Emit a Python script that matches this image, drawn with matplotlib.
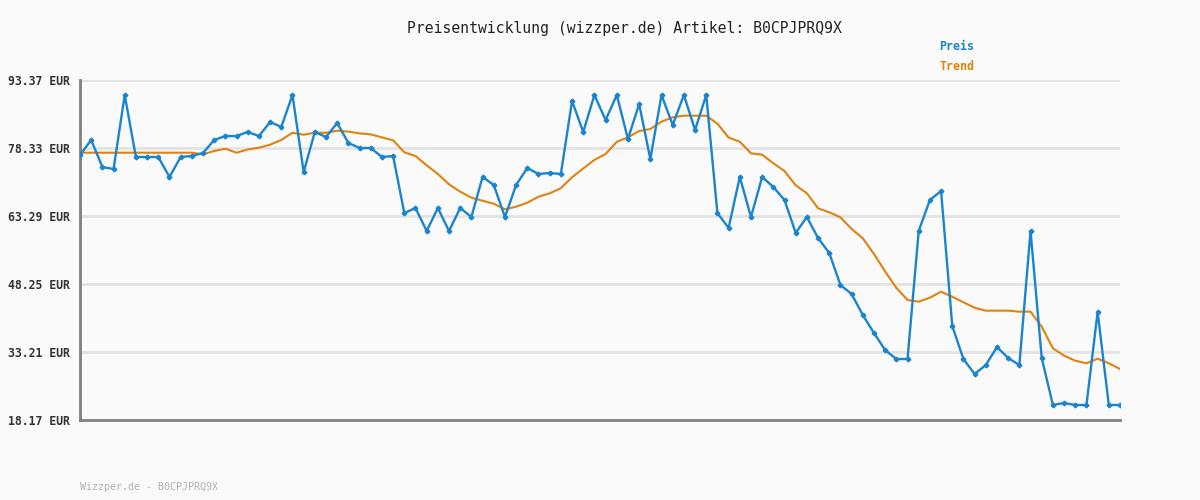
import matplotlib
matplotlib.use("Agg")
import matplotlib.pyplot as plt
import numpy as np

title = "Preisentwicklung (wizzper.de) Artikel: B0CPJPRQ9X"
footer = "Wizzper.de - B0CPJPRQ9X"
ytick_values = [18.17, 33.21, 48.25, 63.29, 78.33, 93.37]
ytick_labels = ["18.17 EUR", "33.21 EUR", "48.25 EUR", "63.29 EUR", "78.33 EUR", "93.37 EUR"]

preis = [76.78, 80.10, 74.13, 73.68, 90.05, 76.34, 76.34, 76.34, 71.92, 76.34,
         76.56, 77.22, 80.10, 80.98, 80.98, 81.87, 80.98, 84.08, 82.98, 90.05,
         73.02, 81.87, 80.76, 83.86, 79.44, 78.33, 78.33, 76.34, 76.56, 63.95,
         65.06, 59.97, 65.06, 59.97, 65.06, 63.07, 71.92, 70.15, 63.07, 70.15,
         73.91, 72.58, 72.80, 72.58, 88.73, 81.87, 90.05, 84.52, 90.05, 80.32,
         88.06, 75.90, 90.05, 83.42, 90.05, 82.31, 90.05, 63.95, 60.64, 71.92,
         63.07, 71.92, 69.70, 66.83, 59.53, 63.07, 58.42, 55.11, 48.03, 46.04,
         41.39, 37.41, 33.65, 31.66, 31.66, 59.97, 66.83, 68.82, 38.96, 31.66,
         28.34, 30.33, 34.32, 31.88, 30.33, 59.97, 31.88, 21.49, 21.93, 21.49,
         21.49, 42.06, 21.49, 21.49]

trend = [77.29, 77.29, 77.29, 77.29, 77.29, 77.29, 77.29, 77.29, 77.29, 77.29,
         77.29, 76.93, 77.67, 78.17, 77.29, 78.00, 78.40, 79.06, 80.10, 81.70,
         81.27, 81.70, 81.70, 82.16, 81.94, 81.57, 81.35, 80.69, 80.03, 77.38,
         76.56, 74.50, 72.58, 70.30, 68.67, 67.34, 66.67, 66.01, 64.77, 65.35,
         66.23, 67.56, 68.31, 69.45, 71.85, 73.80, 75.70, 77.00, 79.70, 80.69,
         82.09, 82.53, 84.15, 85.12, 85.48, 85.48, 85.48, 83.70, 80.65, 79.73,
         77.16, 76.85, 74.95, 73.24, 70.08, 68.31, 64.99, 64.11, 63.00, 60.41,
         58.36, 54.89, 51.00, 47.40, 44.71, 44.34, 45.22, 46.55, 45.44, 44.20,
         43.00, 42.35, 42.35, 42.35, 42.13, 42.13, 38.81, 34.03, 32.40, 31.29,
         30.71, 31.73, 30.71, 29.45]

bg = "#fafafa"
blue = "#1a84cc"
orange = "#e0820e"
mono = "DejaVu Sans Mono"

fig = plt.figure(figsize=(12, 5), dpi=100, facecolor=bg)
ax = fig.add_axes([80/1200, 1-420/500, 1040/1200, 340/500], facecolor=bg)

x = np.arange(len(preis))
for v in ytick_values[1:]:
    ax.axhline(v, color="#e3e3e3", lw=2, zorder=0)

ax.plot(x, trend, color=orange, lw=1.5, zorder=2)
ax.plot(x, preis, color=blue, lw=1.7, marker="P", ms=3, mec=blue, mfc=blue, zorder=3)

ax.set_xlim(0, len(preis) - 1)
ax.set_ylim(ytick_values[0], ytick_values[-1])
ax.set_yticks(ytick_values)
ax.set_yticklabels(ytick_labels, fontfamily=mono, fontweight="bold", fontsize=8.3, color="#333333")
ax.set_xticks([])
ax.tick_params(axis="y", length=0, pad=7)
for s in ["top", "right"]:
    ax.spines[s].set_visible(False)
for s in ["left", "bottom"]:
    ax.spines[s].set_color("#808080")
    ax.spines[s].set_linewidth(2)

fig.text(624/1200, 1-28/500, title, ha="center", va="center", fontfamily=mono,
         fontsize=10.6, color="#222222")
fig.text(939/1200, 1-47/500, "Preis", ha="left", va="center", fontfamily=mono,
         fontweight="bold", fontsize=8.4, color=blue)
fig.text(939/1200, 1-67/500, "Trend", ha="left", va="center", fontfamily=mono,
         fontweight="bold", fontsize=8.4, color=orange)
fig.text(80/1200, 1-487/500, footer, ha="left", va="center", fontfamily=mono,
         fontsize=7.2, color="#b0b0b0")

fig.savefig("out.png", dpi=100, facecolor=bg)
